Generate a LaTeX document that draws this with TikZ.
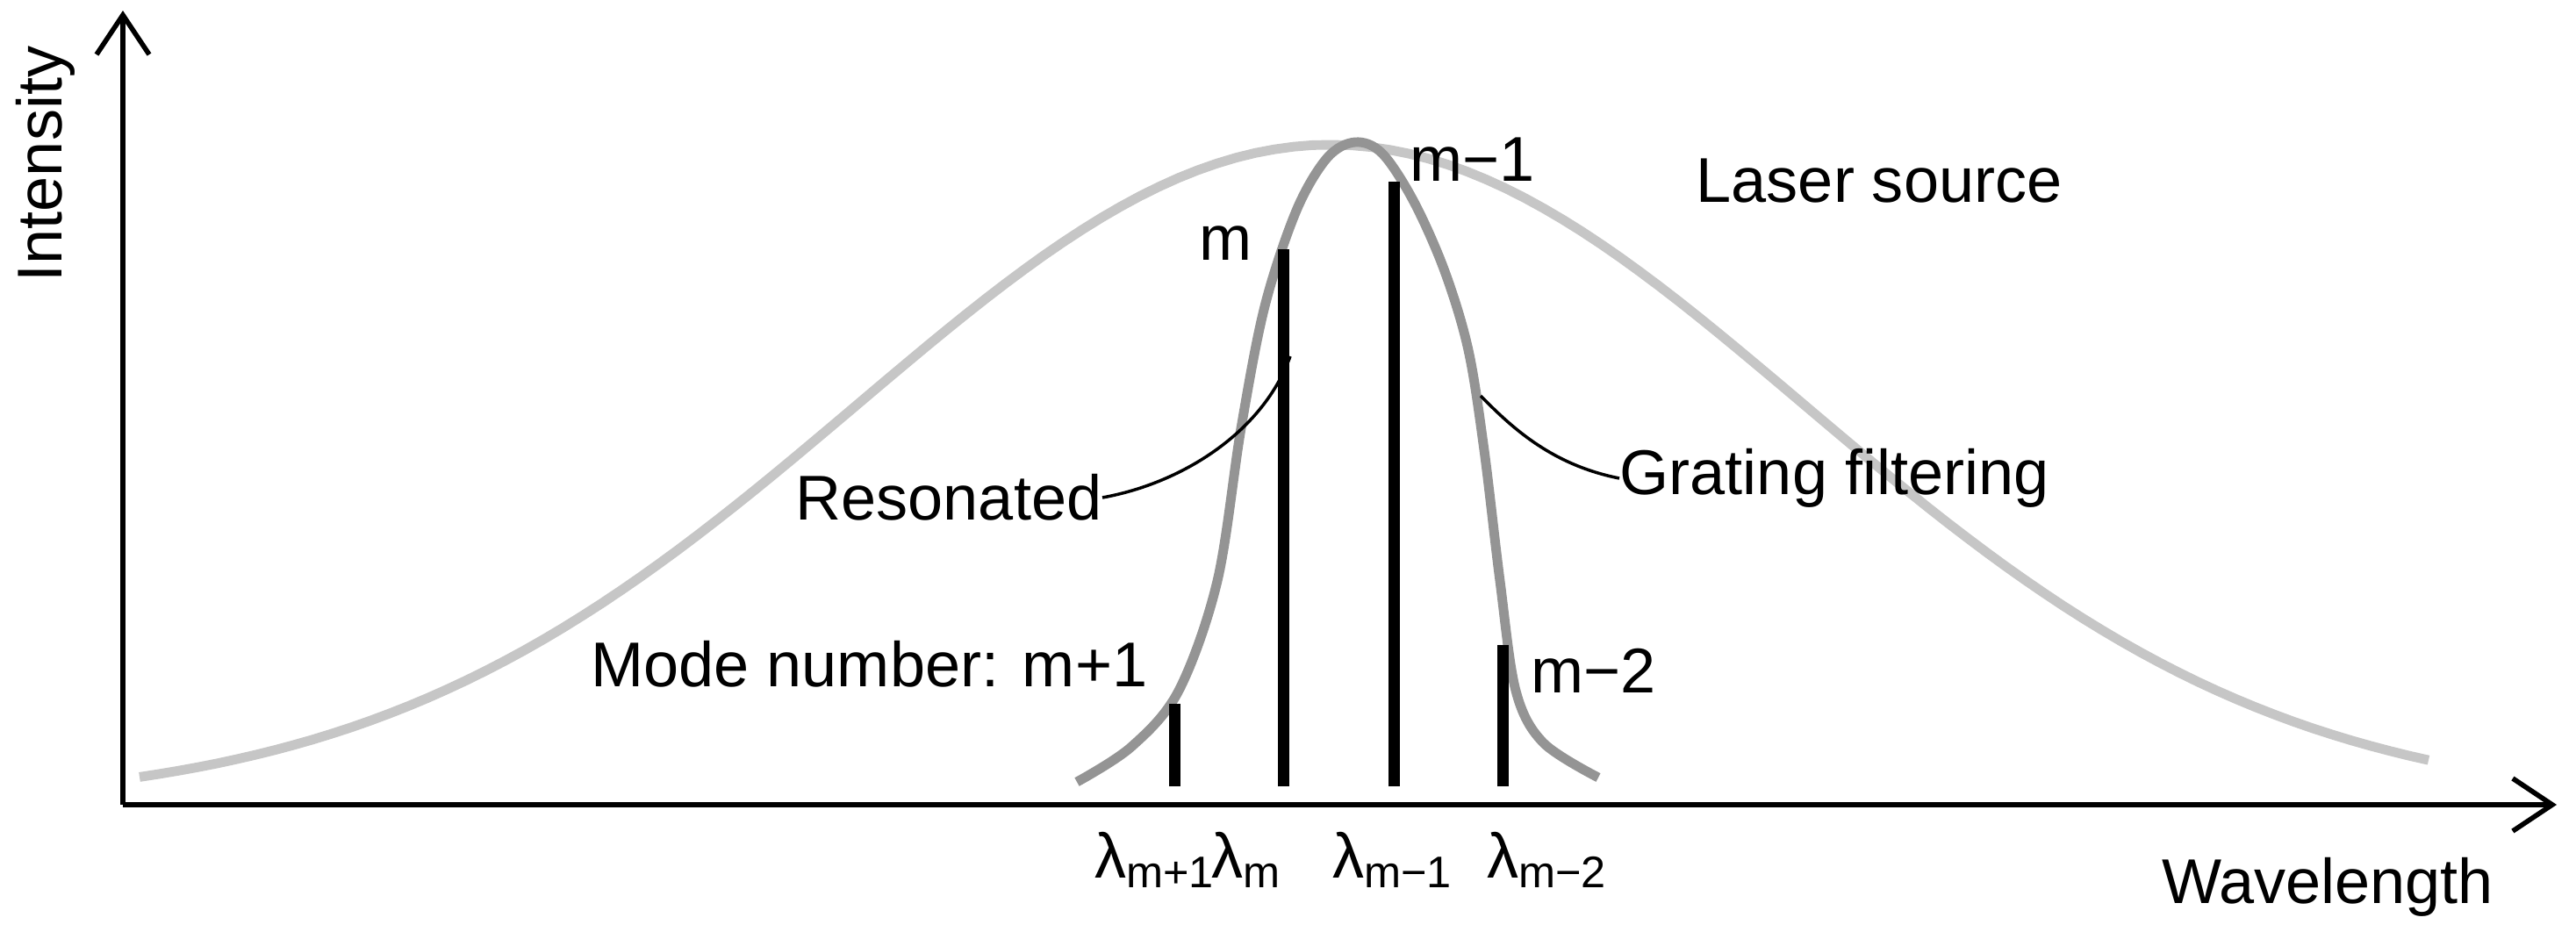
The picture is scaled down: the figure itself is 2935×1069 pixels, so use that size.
\documentclass[tikz,border=0pt]{standalone}
\usepackage{fontspec}
\setmainfont{Liberation Sans}
\usetikzlibrary{arrows.meta,positioning}

\begin{document}
\begin{tikzpicture}[
    x=0.01cm, y=-0.01cm,
    every node/.style={font=\fontsize{20.5}{24}\selectfont, inner sep=0pt},
    axis/.style={line width=1.6pt, -{Straight Barb[length=4.5mm, width=6mm, line width=1.6pt]}},
    source/.style={draw=gray!45, line width=3.1pt},
    grating/.style={draw=gray!80!black!70, line width=3.1pt},
    mode/.style={line width=3.7pt},
    lead/.style={line width=1pt}
  ]
    \useasboundingbox (0,0) rectangle (2935,1069);

    % axes
    \coordinate (o) at (140,917);
    \coordinate (ytop) at (140,12);
    \coordinate (xend) at (2913,917);
    \draw[axis] (o) -- (ytop);
    \draw[axis] (o) -- (xend);
    \node[rotate=90] (ilab) at (52,187) {Intensity};
    \node (wlab) at (2652,1011) {Wavelength};

    % laser source spectrum
    \draw[source] plot[domain=159:2767, samples=120]
      (\x, {917-752*exp(-0.5*((\x-1516)/539)^2)});
    \node[anchor=west] (laser) at (1932,206) {Laser source};

    % grating filter
    \draw[grating, line join=round] plot[smooth, tension=0.55] coordinates {
      (1227,891) (1289,851) (1343,787) (1387,662) (1414,488) (1441,349)
      (1477,240) (1512,180) (1544,162) (1575,175) (1611,230) (1646,309)
      (1673,399) (1691,513) (1709,662) (1727,787) (1758,846) (1821,886)};

    % modes
    \coordinate (m1b) at (1338,896); \coordinate (m1t) at (1338,802);
    \coordinate (m0b) at (1462,896); \coordinate (m0t) at (1462,284);
    \coordinate (mm1b) at (1588,896); \coordinate (mm1t) at (1588,207);
    \coordinate (mm2b) at (1712,896); \coordinate (mm2t) at (1712,735);
    \draw[mode] (m1b) -- (m1t);
    \draw[mode] (m0b) -- (m0t);
    \draw[mode] (mm1b) -- (mm1t);
    \draw[mode] (mm2b) -- (mm2t);

    \node[anchor=east] (lm1) at (1308,757) {Mode number: m+1};
    \node (lm0) at (1397,277) {m};
    \node[anchor=west] (lmm1) at (1606,182) {m−1};
    \node[anchor=west] (lmm2) at (1744,764) {m−2};

    \node (w1) at (1316,980) {λ\textsubscript{m+1}};
    \node (w0) at (1420,980) {λ\textsubscript{m}};
    \node (w2) at (1587,980) {λ\textsubscript{m−1}};
    \node (w3) at (1763,980) {λ\textsubscript{m−2}};

    % leaders
    \node[anchor=east] (res) at (1256,567) {Resonated};
    \coordinate (rtip) at (1470,406);
    \draw[lead] (res.east) .. controls (1350,550) and (1440,490) .. (rtip);
    \node[anchor=west] (grat) at (1845,545) {Grating filtering};
    \coordinate (gtip) at (1687,451);
    \draw[lead] (grat.west) .. controls (1770,530) and (1725,490) .. (gtip);
\end{tikzpicture}
\end{document}
